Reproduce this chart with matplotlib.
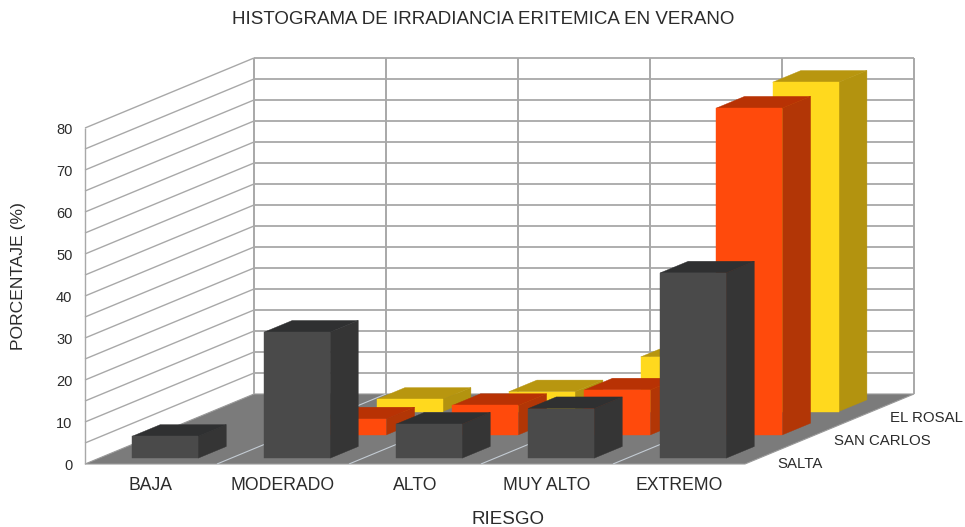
import matplotlib
matplotlib.use("Agg")
import matplotlib.pyplot as plt
from matplotlib.patches import Polygon

plt.rcParams['font.family'] = ['Liberation Sans', 'DejaVu Sans']

categories = ['BAJA', 'MODERADO', 'ALTO', 'MUY ALTO', 'EXTREMO']
series_names = ['SALTA', 'SAN CARLOS', 'EL ROSAL']
salta = [5.2, 30.0, 8.1, 11.8, 44.1]
san_carlos = [0, 3.8, 7.0, 10.7, 77.8]
el_rosal = [0, 2.9, 4.7, 13.0, 78.4]
y_ticks = [0, 10, 20, 30, 40, 50, 60, 70, 80]

series_values = [salta, san_carlos, el_rosal]
face_colors = [('#4a4a4a', '#2f3031', '#353535'),
               ('#ff4a0c', '#b83204', '#b23606'),
               ('#ffd91e', '#b8960f', '#b3930f')]

W, H = 965, 527
fig = plt.figure(figsize=(W / 100, H / 100), dpi=100, facecolor='white')
ax = fig.add_axes([85 / W, (H - 464) / H, 660 / W, 336 / H])
ax.set_xlim(0, len(categories))
ax.set_ylim(0, 80)
for s in ax.spines.values():
    s.set_visible(False)
ax.patch.set_visible(False)

# oblique depth: full depth shifts by this many categories / value units
DEPTH_X = 169 / 132
DEPTH_Y = 70 / 4.2


def proj(x, v, d):
    return (x + d * DEPTH_X, v + d * DEPTH_Y)


GRID = '#a8a8a8'
n = len(categories)
z = 1


def line(p, q, color=GRID, lw=1.1):
    ax.plot([p[0], q[0]], [p[1], q[1]], color=color, lw=lw, clip_on=False,
            solid_capstyle='butt', zorder=z)


# floor
ax.add_patch(Polygon([proj(0, 0, 0), proj(n, 0, 0), proj(n, 0, 1), proj(0, 0, 1)],
                     closed=True, fc='#7b7b7b', ec='#9a9a9a', lw=0.8, clip_on=False, zorder=z))
for i in range(1, n):
    line(proj(i, 0, 0), proj(i, 0, 1), color='#c4ccd4', lw=0.8)

# walls
for v in range(0, 81, 5):
    if v > 0:
        line(proj(0, v, 0), proj(0, v, 1), lw=1.0)
        line(proj(0, v, 1), proj(n, v, 1), lw=1.3)
line(proj(0, 0, 0), proj(0, 80, 0), lw=1.0)
for i in range(n + 1):
    line(proj(i, 0, 1), proj(i, 80, 1), lw=1.4)

# bars, back to front
z = 3
for s in range(len(series_values) - 1, -1, -1):
    front, top, side = face_colors[s]
    d0, d1 = (s + 0.25) / 3, (s + 0.75) / 3
    for i, v in enumerate(series_values[s]):
        if v <= 0:
            continue
        x0, x1 = i + 0.25, i + 0.75
        faces = [
            ([proj(x1, 0, d0), proj(x1, 0, d1), proj(x1, v, d1), proj(x1, v, d0)], side),
            ([proj(x0, v, d0), proj(x1, v, d0), proj(x1, v, d1), proj(x0, v, d1)], top),
            ([proj(x0, 0, d0), proj(x1, 0, d0), proj(x1, v, d0), proj(x0, v, d0)], front),
        ]
        for pts, c in faces:
            ax.add_patch(Polygon(pts, closed=True, fc=c, ec=c, lw=0.3, clip_on=False, zorder=z))
            z += 0.01

TXT = '#2b2b2b'
ax.set_xticks([i + 0.5 for i in range(n)], categories)
ax.set_yticks(y_ticks)
ax.tick_params(axis='x', length=0, pad=9.2, labelsize=12.7, labelcolor=TXT)
ax.tick_params(axis='y', length=0, pad=9, labelsize=10.5, labelcolor=TXT)

# series labels on the depth axis
for s, name in enumerate(series_names):
    x, y = proj(n, 0, (s + 0.5) / 3)
    ax.annotate(name, (x, y), xytext=(4, -12), textcoords='offset pixels', fontsize=10.8,
                color=TXT, ha='left', va='center', annotation_clip=False)

fig.text(483 / W, 1 - 20 / H, 'HISTOGRAMA DE IRRADIANCIA ERITEMICA EN VERANO',
         fontsize=13.5, color=TXT, ha='center', va='center')
fig.text(508 / W, 1 - 520 / H, 'RIESGO', fontsize=13.5, color=TXT, ha='center', va='center')
fig.text(19 / W, 1 - 276 / H, 'PORCENTAJE (%)', fontsize=12.6, color=TXT, rotation=90,
         ha='center', va='center')

fig.savefig('out.png', dpi=100)
